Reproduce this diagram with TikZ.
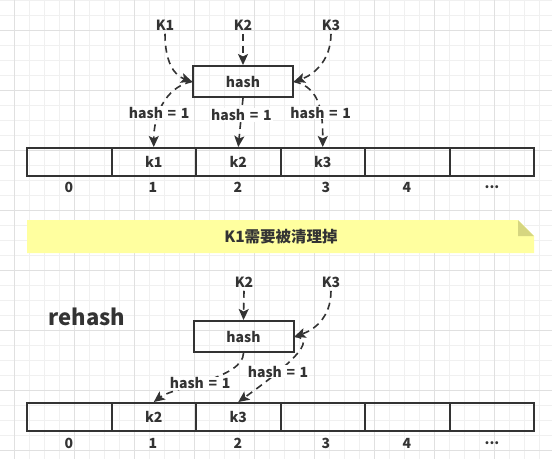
\documentclass[tikz,border=0pt]{standalone}
\usepackage{fontspec}
\setmainfont{Noto Sans CJK SC}
\usetikzlibrary{arrows.meta}
\definecolor{txt}{HTML}{333333}
\definecolor{gminor}{HTML}{F0F0F0}
\definecolor{gmajor}{HTML}{E0E0E0}
\definecolor{notefill}{HTML}{FFFF9F}
\definecolor{foldfill}{HTML}{D6D680}
\newcommand\mydotsx{...}
\begin{document}
\begin{tikzpicture}[x=1pt,y=-1pt,
  every node/.style={font=\fontsize{14}{16}\selectfont\bfseries, text=txt},
  dashedge/.style={draw=txt, line width=1.6pt, dash pattern=on 7pt off 5pt, -{Stealth[length=11pt,width=10pt,inset=2.5pt]}},
  hashbox/.style={draw=txt, line width=2pt, minimum width=100pt, minimum height=31pt, inner sep=0pt},
  cellbox/.style={draw=txt, line width=2pt, minimum width=84.5pt, minimum height=28pt, inner sep=0pt},
  lbl/.style={fill=white, inner sep=1pt, font=\fontsize{14}{16}\selectfont\bfseries}]
\useasboundingbox (0,0) rectangle (552,459);
\fill[white] (0,0) rectangle (552,459);
% grid
\foreach \x in {-1,14,...,552} \draw[gminor, line width=1pt] (\x,0) -- (\x,459);
\foreach \y in {0,15,...,459} \draw[gminor, line width=1pt] (0,\y) -- (552,\y);
\foreach \x in {14,74,...,552} \draw[gmajor, line width=1pt] (\x,0) -- (\x,459);
\foreach \y in {30,90,...,459} \draw[gmajor, line width=1pt] (0,\y) -- (552,\y);

% ---------- top ----------
\node (K1) at (165,25) {K1};
\node (K2) at (243,25) {K2};
\node (K3) at (331,25) {K3};
\node[hashbox] (h1) at (243,81.5) {hash};
\foreach \i/\t in {0/,1/k1,2/k2,3/k3,4/,5/}
  \node[cellbox] (a\i) at ({69.25+84.5*\i},162) {\t};
\foreach \i/\t/\xx in {0/0/69,1/1/153,2/2/238,3/3/326,4/4/407,5/\mydotsx/492}
  \node (ia\i) at (\xx,187) {\t};

\draw[dashedge] (K1.south) .. controls +(0,28) and +(-18,-6) .. (h1.west);
\draw[dashedge] (K2.south) -- (h1.north);
\draw[dashedge] (K3.south) .. controls +(0,28) and +(18,-6) .. (h1.east);
\draw[dashedge] (h1.west) .. controls +(-28,6) and +(0,-30) .. node[lbl,pos=0.6]{hash\,\,=\,\,1} (a1.north);
\draw[dashedge] (h1.south) -- node[lbl,pos=0.35]{hash\,\,=\,\,1} (a2.north);
\draw[dashedge] (h1.east) .. controls +(28,6) and +(0,-30) .. node[lbl,pos=0.6]{hash\,\,=\,\,1} (a3.north);

% ---------- note ----------
\fill[notefill] (27,220) -- (518,220) -- (534,236) -- (534,253) -- (27,253) -- cycle;
\fill[foldfill] (518,220) -- (534,236) -- (518,236) -- cycle;
\node[font=\fontsize{15.5}{18}\selectfont\bfseries] (note) at (281,237) {K1需要被清理掉};

% ---------- bottom ----------
\node[font=\fontsize{22}{26}\selectfont\bfseries] (rehash) at (87,317) {rehash};
\node (K2b) at (244,282) {K2};
\node (K3b) at (331,282) {K3};
\node[hashbox] (h2) at (243.5,336.5) {hash};
\foreach \i/\t in {0/,1/k2,2/k3,3/,4/,5/}
  \node[cellbox] (b\i) at ({69.25+84.5*\i},417) {\t};
\foreach \i/\t/\xx in {0/0/69,1/1/153,2/2/238,3/3/326,4/4/407,5/\mydotsx/492}
  \node (ib\i) at (\xx,443) {\t};

\draw[dashedge] (K2b.south) -- (h2.north);
\draw[dashedge] (K3b.south) .. controls +(0,28) and +(18,-6) .. (h2.east);
\draw[dashedge] (h2.south) .. controls +(0,25) and +(20,-15) .. node[lbl,pos=0.55]{hash\,\,=\,\,1} (b1.north);
\draw[dashedge] (h2.east) .. controls +(32,2) and +(25,-18) .. node[lbl,pos=0.6]{hash\,\,=\,\,1} (b2.north);
\end{tikzpicture}
\end{document}
